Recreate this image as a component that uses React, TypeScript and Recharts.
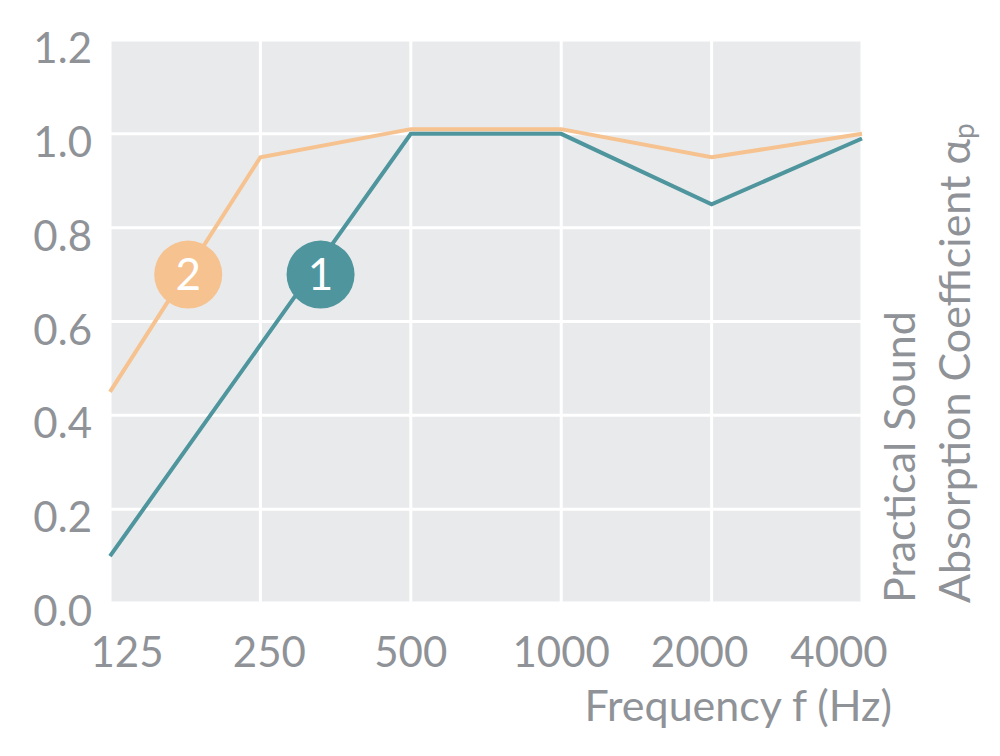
import { CartesianGrid, Line, LineChart, ReferenceDot, XAxis, YAxis, Label } from 'recharts';

const frequencies = ['125', '250', '500', '1000', '2000', '4000'];
const panel1 = [0.1, 0.55, 1.0, 1.0, 0.85, 0.99];
const panel2 = [0.45, 0.95, 1.01, 1.01, 0.95, 1.0];
const yTicks = [0, 0.2, 0.4, 0.6, 0.8, 1.0, 1.2];

const data = frequencies.map((f, i) => ({ idx: i, freq: f, p1: panel1[i], p2: panel2[i] }));

const TEAL = '#4e959d';
const ORANGE = '#f6c28f';
const GREY = '#8f9398';
const FONT = 'Lato, "Open Sans", sans-serif';

// label shifts copied from the reference look
const xShift = [17, 9, 0, 0, -12, -23];

function XTick(props: any) {
  const { x, y, payload, index } = props;
  return (
    <text x={x + (xShift[index] ?? 0)} y={y + 56} textAnchor="middle" fill={GREY} fontSize={42} fontFamily={FONT}>
      {frequencies[payload.value]}
    </text>
  );
}

function YTick(props: any) {
  const { x, y, payload } = props;
  return (
    <text x={x - 10} y={y + 23} textAnchor="end" fill={GREY} fontSize={42} fontFamily={FONT}>
      {payload.value.toFixed(1)}
    </text>
  );
}

function AxisTitles(props: any) {
  const { viewBox } = props;
  const right = viewBox.x + viewBox.width;
  const bottom = viewBox.y;
  return (
    <g fontFamily={FONT} fill={GREY} fontSize={43}>
      <text x={right + 30} y={bottom + 118} textAnchor="end">Frequency f (Hz)</text>
      <text transform={`translate(${right + 53}, ${bottom}) rotate(-90)`} textAnchor="start">Practical Sound</text>
      <text transform={`translate(${right + 108}, ${bottom}) rotate(-90)`} textAnchor="start">
        Absorption Coefficient α<tspan fontSize={28} dy={4}>p</tspan>
      </text>
    </g>
  );
}

export default function App() {
  return (
    <div style={{ position: 'absolute', left: 0, top: 0, background: '#fff' }}>
      <LineChart width={1000} height={756} data={data} margin={{ top: 40, right: 138, bottom: 93, left: 0 }}>
        <CartesianGrid stroke="#ffffff" strokeWidth={3} fill="#e9eaec" fillOpacity={1} />
        <XAxis
          dataKey="idx"
          type="number"
          domain={[0, 5]}
          ticks={[0, 1, 2, 3, 4, 5]}
          axisLine={false}
          tickLine={false}
          height={60}
          tick={<XTick />}
          interval={0}
        >
          <Label content={<AxisTitles />} />
        </XAxis>
        <YAxis
          type="number"
          domain={[0, 1.2]}
          ticks={yTicks}
          axisLine={false}
          tickLine={false}
          width={110}
          tick={<YTick />}
          interval={0}
        />
        <Line dataKey="p2" stroke={ORANGE} strokeWidth={4} dot={false} isAnimationActive={false} />
        <Line dataKey="p1" stroke={TEAL} strokeWidth={4} dot={false} isAnimationActive={false} />
        <ReferenceDot
          x={0.52}
          y={0.7}
          r={34}
          fill={ORANGE}
          stroke="none"
          label={{ value: '2', position: 'center', fill: '#fff', fontSize: 44, fontFamily: FONT }}
        />
        <ReferenceDot
          x={1.4}
          y={0.7}
          r={34}
          fill={TEAL}
          stroke="none"
          label={{ value: '1', position: 'center', fill: '#fff', fontSize: 44, fontFamily: FONT }}
        />
      </LineChart>
    </div>
  );
}
